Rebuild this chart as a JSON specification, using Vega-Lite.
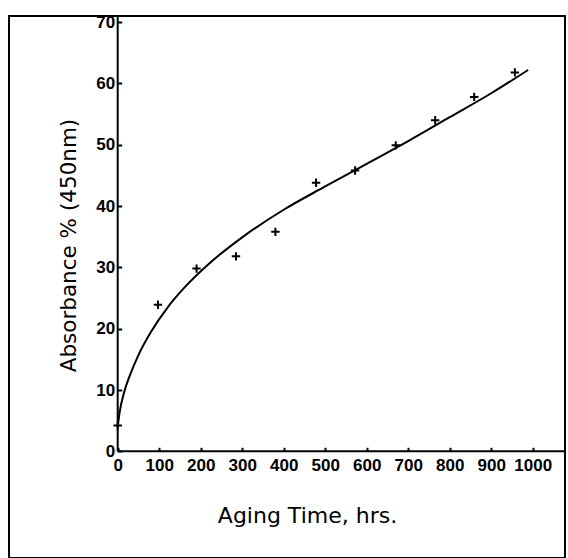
{
  "$schema": "https://vega.github.io/schema/vega-lite/v6.json",
  "width": 556,
  "height": 542,
  "padding": {"left": 9, "top": 13, "right": 3, "bottom": 3},
  "autosize": {"type": "pad"},
  "background": "white",
  "config": {
    "view": {"stroke": "black", "strokeWidth": 2},
    "axis": {
      "grid": false,
      "domain": false,
      "labelFont": "Liberation Sans",
      "labelFontSize": 17,
      "labelFontWeight": "bold",
      "labelColor": "black",
      "tickColor": "black",
      "tickWidth": 2,
      "titleFont": "DejaVu Sans",
      "titleFontSize": 21.5,
      "titleFontWeight": "normal",
      "titleColor": "black"
    }
  },
  "datasets": {
    "obs": [
      {"time": 0, "absorbance": 4.2},
      {"time": 97, "absorbance": 23.9},
      {"time": 190, "absorbance": 29.8},
      {"time": 285, "absorbance": 31.8},
      {"time": 380, "absorbance": 35.8},
      {"time": 478, "absorbance": 43.8},
      {"time": 572, "absorbance": 45.8},
      {"time": 670, "absorbance": 49.9},
      {"time": 765, "absorbance": 54.0},
      {"time": 859, "absorbance": 57.8},
      {"time": 957, "absorbance": 61.8}
    ],
    "fit": [
      {"time": 0, "absorbance": 4.0},
      {"time": 5, "absorbance": 6.5},
      {"time": 15, "absorbance": 9.5},
      {"time": 30, "absorbance": 12.5},
      {"time": 50, "absorbance": 15.7},
      {"time": 80, "absorbance": 19.45},
      {"time": 120, "absorbance": 23.45},
      {"time": 160, "absorbance": 26.65},
      {"time": 220, "absorbance": 30.6},
      {"time": 300, "absorbance": 34.9},
      {"time": 400, "absorbance": 39.4},
      {"time": 500, "absorbance": 43.2},
      {"time": 600, "absorbance": 46.9},
      {"time": 700, "absorbance": 50.6},
      {"time": 800, "absorbance": 54.5},
      {"time": 900, "absorbance": 58.4},
      {"time": 989, "absorbance": 62.2}
    ]
  },
  "layer": [
    {
      "data": {"name": "fit"},
      "mark": {"type": "line", "interpolate": "monotone", "color": "black", "strokeWidth": 2},
      "encoding": {
        "x": {
          "field": "time",
          "type": "quantitative",
          "scale": {"domain": [-261.9, 1077.8], "nice": false, "zero": false},
          "axis": {
            "orient": "bottom",
            "offset": -106.7,
            "values": [0, 100, 200, 300, 400, 500, 600, 700, 800, 900, 1000],
            "format": "d",
            "tickSize": -4,
            "labelPadding": 10,
            "labelFlush": false,
            "labelOverlap": false,
            "title": "Aging Time, hrs.",
            "titleFontSize": 22,
            "titleX": 298,
            "titleY": 64,
            "titleAlign": "center",
            "titleBaseline": "middle"
          }
        },
        "y": {
          "field": "absorbance",
          "type": "quantitative",
          "scale": {"domain": [-17.4, 71.0], "nice": false, "zero": false},
          "axis": {
            "orient": "left",
            "offset": -108.7,
            "values": [0, 10, 20, 30, 40, 50, 60, 70],
            "tickSize": -4,
            "labelPadding": 7,
            "labelFlush": false,
            "labelOverlap": false,
            "title": "Absorbance % (450nm)",
            "titleX": -48,
            "titleY": 229,
            "titleAngle": -90,
            "titleAlign": "center",
            "titleBaseline": "middle"
          }
        }
      }
    },
    {
      "data": {"name": "obs"},
      "mark": {"type": "point", "shape": "M-1,0L1,0M0,-1L0,1", "size": 70, "filled": false, "stroke": "black", "strokeWidth": 2, "opacity": 1},
      "encoding": {
        "x": {"field": "time", "type": "quantitative"},
        "y": {"field": "absorbance", "type": "quantitative"}
      }
    },
    {
      "data": {"values": [{}]},
      "mark": {"type": "rule", "color": "black", "strokeWidth": 2},
      "encoding": {
        "x": {"datum": 0, "type": "quantitative"},
        "y": {"datum": 0, "type": "quantitative"},
        "y2": {"datum": 71.0}
      }
    },
    {
      "data": {"values": [{}]},
      "mark": {"type": "rule", "color": "black", "strokeWidth": 2},
      "encoding": {
        "x": {"datum": 0, "type": "quantitative"},
        "x2": {"datum": 1077.8},
        "y": {"datum": 0, "type": "quantitative"}
      }
    }
  ]
}
